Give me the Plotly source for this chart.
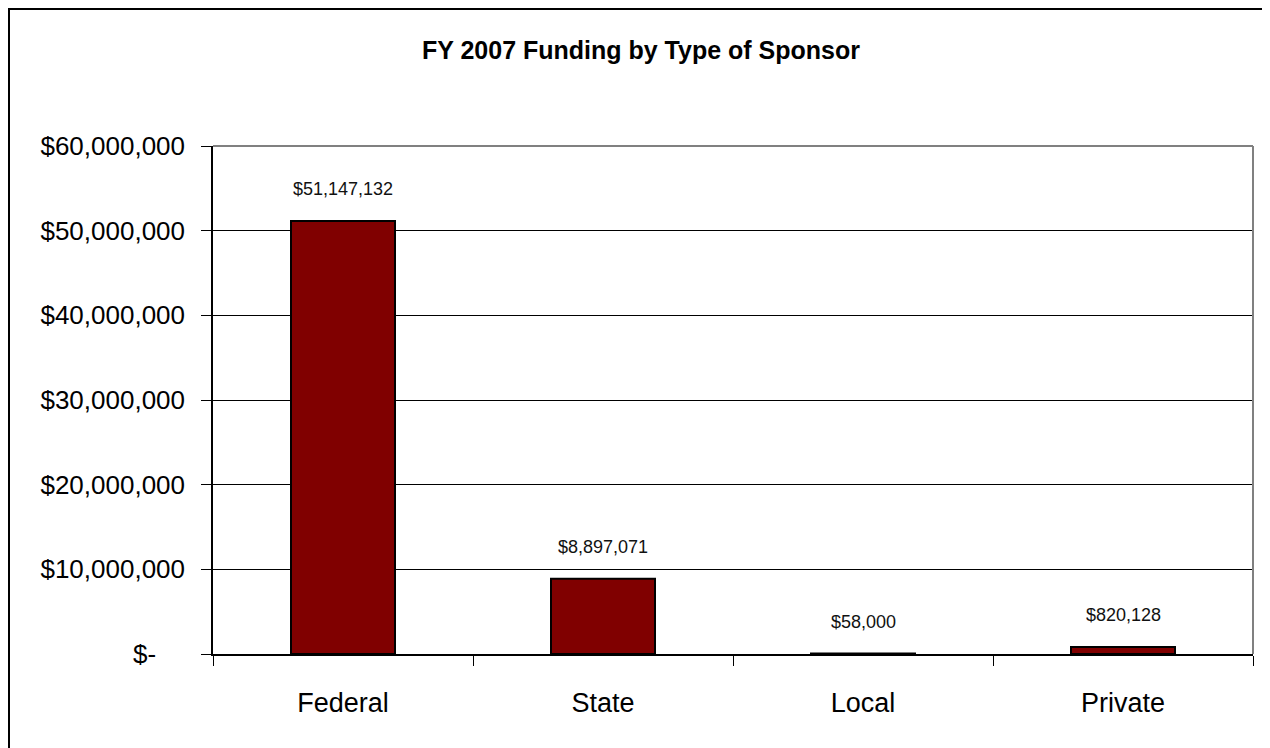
import plotly.graph_objects as go

categories = ["Federal", "State", "Local", "Private"]
values = [51147132, 8897071, 58000, 820128]
value_labels = ["$51,147,132", "$8,897,071", "$58,000", "$820,128"]
y_tickvals = [0, 10000000, 20000000, 30000000, 40000000, 50000000, 60000000]
y_ticktext = ["$-\u00a0\u00a0\u00a0\u00a0", "$10,000,000", "$20,000,000", "$30,000,000",
              "$40,000,000", "$50,000,000", "$60,000,000"]

FONT = "Liberation Sans Narrow, Arial Narrow, Liberation Sans, Arial, sans-serif"

# plot area in figure pixels (page is offset by the 8px body margin)
L, R, T, B = 205, 1245, 138, 646
W, H = 1270, 748

fig = go.Figure()
fig.add_trace(go.Bar(
    x=categories, y=values, width=0.4,
    marker=dict(color="#800000", line=dict(color="black", width=2)),
    hoverinfo="x+y",
))

for c, v, t in zip(categories, values, value_labels):
    fig.add_annotation(x=c, y=v, text=t, showarrow=False, xref="x", yref="y",
                       yanchor="bottom", yshift=20,
                       font=dict(family=FONT, size=18, color="#111111"))

fig.update_layout(
    width=W, height=H, autosize=False,
    margin=dict(l=L, r=W - R, t=T, b=H - B, autoexpand=False),
    paper_bgcolor="white", plot_bgcolor="white",
    showlegend=False,
    title=dict(text="<b>FY 2007 Funding by Type of Sponsor</b>",
               x=633 / W, xref="container", xanchor="center",
               y=1 - 42 / H, yref="container", yanchor="middle",
               font=dict(family=FONT, size=25, color="black")),
    bargap=0.6,
)

fig.update_xaxes(
    automargin=False,
    showline=True, linecolor="black", linewidth=1.5,
    ticks="outside", ticklen=10, tickcolor="black", tickwidth=1,
    tickson="boundaries", showgrid=False,
    ticklabelstandoff=24,
    tickfont=dict(family=FONT, size=27, color="black"),
)
fig.update_yaxes(
    automargin=False,
    range=[0, 60000000],
    tickvals=y_tickvals, ticktext=y_ticktext,
    showline=True, linecolor="black", linewidth=1.5,
    ticks="outside", ticklen=10, tickcolor="black", tickwidth=1,
    showgrid=True, gridcolor="black", gridwidth=1,
    zeroline=False,
    ticklabelstandoff=11,
    tickfont=dict(family=FONT, size=26, color="black"),
)

# plot-area top and right border (gray)
fig.add_shape(type="line", xref="paper", yref="paper", x0=0, x1=1, y0=1, y1=1,
              line=dict(color="#808080", width=2))
fig.add_shape(type="line", xref="paper", yref="paper", x0=1, x1=1, y0=0, y1=1,
              line=dict(color="#808080", width=2))
# outer chart border
PW, PH = R - L, B - T
fig.add_shape(type="rect", xref="paper", yref="paper",
              x0=(1 - L) / PW, x1=(1300 - L) / PW,
              y0=(B - 780) / PH, y1=(B - 1) / PH,
              line=dict(color="black", width=2), layer="below")

fig.write_html("out.html")
